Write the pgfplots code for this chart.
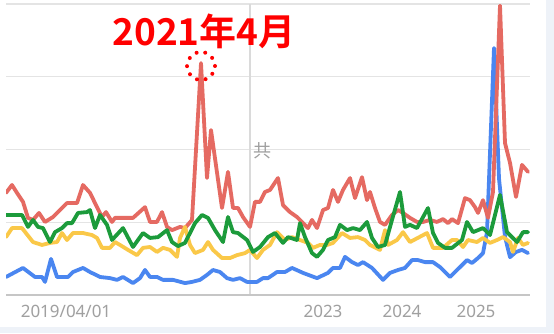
\documentclass[border=0pt]{standalone}
\usepackage{pgfplots}
\pgfplotsset{compat=1.18}
\usepackage{fontspec}
\setmainfont{Noto Sans}
\newfontfamily\cjk{Noto Sans CJK SC}
\newfontfamily\cjkb{Noto Sans CJK SC Bold}
\definecolor{tred}{HTML}{E56A62}
\definecolor{tblue}{HTML}{4A86F0}
\definecolor{tyellow}{HTML}{FAC848}
\definecolor{tgreen}{HTML}{1C9B3B}
\definecolor{gridc}{HTML}{E4E4E4}
\definecolor{axisc}{HTML}{C6C6C6}
\definecolor{vlinec}{HTML}{DADADA}
\definecolor{labelc}{HTML}{A0A0A0}
\definecolor{panel}{HTML}{EEF2F8}
\begin{document}
\begin{tikzpicture}
\path[use as bounding box] (-6pt,-38pt) rectangle (548pt,295pt);
\fill[white] (-6pt,-38pt) rectangle (548pt,295pt);
\fill[panel] (540pt,-38pt) rectangle (548pt,295pt);
\fill[panel] (-6pt,-38pt) rectangle (548pt,-32pt);
\begin{axis}[
  at={(0pt,0pt)}, anchor=south west,
  scale only axis, width=524pt, height=291pt,
  xmin=6, xmax=530, ymin=0, ymax=100,
  axis line style={draw=none},
  major tick length=0pt,
  ytick={25,50,75,100}, yticklabels={},
  ymajorgrids, grid style={color=gridc, line width=1.3pt},
  xtick={66,323,402,476},
  xticklabels={2019/04/01,2023,2024,2025},
  xticklabel style={font=\fontsize{17}{17}\selectfont, text=labelc, anchor=base, yshift=-22pt, inner sep=0pt},
  every axis plot/.append style={line width=3.8pt, line join=round, line cap=round},
]
\draw[vlinec, line width=1.3pt] (axis cs:250,0) -- (axis cs:250,100);
\draw[axisc, line width=1.8pt] (axis cs:6,0) -- (axis cs:530,0);
% blue
\addplot[tblue] coordinates {(6,6.2)(23,9.3)(35,6.2)(42,6.2)(45,4.5)(51,12.4)(57,6.2)(68,6.2)(73,7.9)(83,9.3)(90,7.9)(100,6.2)(110,5.8)(117,5.2)(123,6.2)(133,4.1)(140,5.8)(145,8.6)(150,6.2)(157,6.2)(163,5.2)(173,5.2)(185,4.1)(192,4.5)(200,5.2)(207,6.9)(213,8.6)(220,7.9)(227,5.8)(233,5.2)(240,5.8)(247,4.5)(257,4.5)(263,5.8)(268,5.8)(277,7.9)(285,7.9)(292,9.3)(303,7.6)(317,5.8)(328,7.6)(333,9.3)(340,9.3)(345,13.1)(352,11.3)(358,10.3)(363,11.3)(372,9.3)(383,5.2)(390,7.6)(398,8.6)(405,9.3)(412,12.0)(418,12.0)(425,11.3)(433,11.3)(440,9.6)(450,6.2)(460,9.6)(467,12.0)(472,11.0)(478,12.7)(483,14.4)(487,21.6)(494,84.9)(499,40.0)(505,20.0)(510,13.0)(516,14.8)(522,15.5)(528,14.4)};
% red
\addplot[tred] coordinates {(6,35.1)(12,37.8)(17,35.1)(23,32.0)(28,26.5)(33,25.8)(39,28.2)(45,25.1)(53,26.8)(60,29.2)(67,31.6)(77,31.6)(83,37.8)(90,35.1)(97,30.2)(102,26.8)(106,28.5)(112,25.1)(115,26.5)(133,26.5)(145,30.2)(150,25.1)(157,25.1)(162,28.5)(167,23.4)(172,22.3)(180,23.4)(185,23.0)(192,25.8)(201,79.7)(207,40.2)(211,56.7)(222,29.9)(228,42.3)(233,29.9)(238,29.9)(243,26.8)(250,23.4)(255,32.0)(260,32.0)(265,35.4)(270,36.1)(278,40.2)(283,30.9)(290,28.5)(297,26.8)(303,24.7)(308,23.0)(312,25.8)(317,23.0)(323,29.2)(328,29.9)(333,36.1)(338,32.0)(343,36.1)(350,40.2)(355,33.3)(362,40.5)(367,32.6)(370,35.4)(375,29.9)(380,25.1)(385,24.1)(392,27.5)(398,29.2)(403,28.2)(410,26.5)(417,25.1)(423,25.1)(430,25.8)(437,25.1)(443,26.1)(448,24.7)(452,26.1)(458,24.7)(465,33.3)(470,32.6)(475,30.2)(478,28.2)(483,32.6)(488,26.5)(493,35.4)(500,99.5)(505,52.2)(510,45.4)(516,33.7)(522,44.7)(528,42.3)};
% yellow
\addplot[tyellow] coordinates {(6,19.9)(12,23.0)(22,23.0)(33,18.2)(42,17.2)(50,17.9)(57,18.2)(62,21.3)(67,18.9)(73,21.3)(83,21.3)(92,20.6)(97,19.6)(102,16.2)(110,16.2)(115,18.2)(120,17.2)(128,15.5)(137,13.7)(143,16.2)(150,16.5)(157,14.8)(163,16.2)(170,15.5)(177,13.1)(180,19.6)(185,23.4)(190,17.2)(195,14.4)(203,15.5)(208,18.2)(213,15.5)(222,12.7)(230,12.7)(237,13.7)(245,14.4)(250,15.5)(257,12.7)(263,15.5)(270,17.2)(277,21.6)(285,18.9)(292,19.9)(300,18.9)(308,17.9)(313,16.2)(320,17.2)(327,17.2)(333,17.9)(342,21.3)(350,19.6)(358,19.9)(365,18.9)(370,17.2)(380,15.5)(385,22.3)(388,17.2)(397,18.9)(403,21.6)(410,18.2)(427,21.3)(433,16.2)(443,16.2)(452,18.9)(457,18.9)(463,16.5)(468,18.9)(477,18.2)(483,19.6)(490,17.9)(497,18.9)(503,19.9)(510,18.2)(513,14.8)(518,19.6)(523,17.2)(528,17.9)};
% green
\addplot[tgreen] coordinates {(6,27.5)(22,27.5)(28,23.4)(33,25.8)(38,23.4)(43,23.0)(50,18.2)(55,21.6)(62,23.0)(67,24.7)(72,24.7)(78,28.2)(87,28.5)(90,29.2)(95,23.0)(100,27.5)(107,24.1)(112,18.9)(123,23.0)(133,16.5)(143,21.3)(150,19.6)(158,19.9)(167,22.3)(172,18.2)(178,16.8)(185,17.9)(195,24.7)(202,27.5)(208,26.5)(215,22.3)(223,18.2)(228,26.8)(233,21.6)(238,21.3)(247,18.9)(253,14.8)(260,16.5)(268,19.9)(275,21.3)(283,17.9)(288,19.9)(297,18.9)(300,24.7)(305,19.9)(312,14.4)(317,13.1)(323,15.5)(328,18.9)(335,19.9)(340,24.1)(347,22.3)(353,23.0)(360,22.3)(367,25.1)(372,19.6)(378,16.5)(385,17.2)(392,25.8)(400,35.4)(405,23.4)(410,24.1)(417,23.0)(428,29.9)(433,21.3)(438,17.9)(445,16.2)(452,16.2)(462,18.9)(467,25.1)(473,21.6)(483,23.0)(490,20.6)(500,34.4)(507,21.6)(517,18.2)(523,21.6)(528,21.6)};
\draw[red, line width=4pt, dash pattern=on 0pt off 8.8pt, line cap=round] (axis cs:201,78.7) circle[radius=14pt];
\node[red, font=\cjkb\fontsize{37}{37}\selectfont, inner sep=0pt] at (axis cs:204,90.7) {2021年4月};
\node[labelc, font=\cjk\fontsize{18}{18}\selectfont, inner sep=0pt] at (axis cs:262,49.5) {共};
\end{axis}
\end{tikzpicture}
\end{document}
